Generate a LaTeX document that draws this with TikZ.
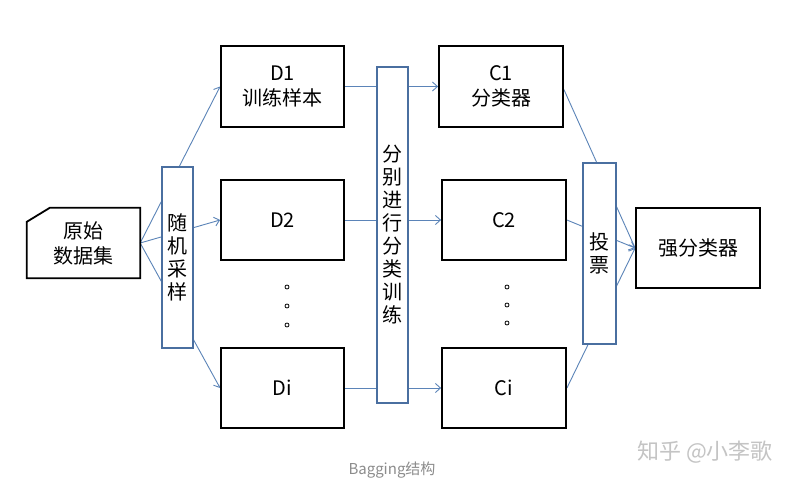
\documentclass[tikz,border=0pt]{standalone}
\usepackage{fontspec}
\setmainfont{Noto Sans CJK SC}
\usetikzlibrary{arrows.meta,backgrounds}
\definecolor{barblue}{HTML}{4A6FA0}
\definecolor{linkblue}{HTML}{5B84B8}
\definecolor{capgray}{HTML}{8C8C8C}
\definecolor{markgray}{HTML}{C4C4C4}
\tikzset{
  box/.style={draw=black, line width=1.8pt, fill=white, inner sep=0pt, align=center,
    font=\fontsize{20}{25}\selectfont},
  bar/.style={draw=barblue, line width=1.8pt, fill=white, inner sep=0pt, align=center,
    minimum width=31pt, font=\fontsize{20}{23}\selectfont},
  link/.style={draw=linkblue, line width=0.9pt, -{Straight Barb[length=5pt,width=9pt]}},
  dotmark/.style={draw=black, line width=0.8pt}
}
\begin{document}
\begin{tikzpicture}[x=1pt,y=-1pt]
\useasboundingbox (0,0) rectangle (798,484);
% nodes
\node[inner sep=0pt, minimum width=113pt, minimum height=70pt, align=center,
  font=\fontsize{20}{25}\selectfont] (raw) at (83.5,243) {原始\\数据集};
\node[bar, minimum height=181pt] (samp) at (177.5,257.5) {随\\机\\采\\样};
\node[box, minimum width=123pt, minimum height=81pt] (d1) at (282.5,86.5) {D1\\训练样本};
\node[box, minimum width=123pt, minimum height=80pt] (d2) at (282.5,220) {D2};
\node[box, minimum width=123pt, minimum height=80pt] (di) at (282.5,388) {Di};
\node[bar, minimum height=336pt] (train) at (392.5,235) {分\\别\\进\\行\\分\\类\\训\\练};
\node[box, minimum width=124pt, minimum height=81pt] (c1) at (501,86.5) {C1\\分类器};
\node[box, minimum width=124pt, minimum height=80pt] (c2) at (504,220) {C2};
\node[box, minimum width=124pt, minimum height=80pt] (ci) at (504,388) {Ci};
\node[bar, minimum width=33pt, minimum height=181pt] (vote) at (599.5,253.5) {投\\票};
\node[box, minimum width=124pt, minimum height=80pt] (strong) at (698,248) {强分类器};
% cut-corner outline of the raw data node
\draw[line width=1.8pt, line join=miter]
  (raw.south west) -- ([yshift=-14pt]raw.north west) -- ([xshift=23pt]raw.north west)
  -- (raw.north east) -- (raw.south east) -- cycle;
% dots
\foreach \y in {287,306,325} { \draw[dotmark] (287,\y) circle (2pt); }
\foreach \y in {287,305,323} { \draw[dotmark] (507,\y) circle (2pt); }
% texts
\node[text=capgray, font=\fontsize{15}{17}\selectfont] (cap) at (392,470) {Bagging结构};
\node[text=markgray, font=\fontsize{22}{24}\selectfont] (mark) at (705,452) {知乎 @小李歌};
% connectors behind the bars
\begin{scope}[on background layer]
  \fill[white] (0,0) rectangle (798,484);
  \draw[link] (raw.east) -- (d1.west);
  \draw[link] (raw.east) -- (d2.west);
  \draw[link] (raw.east) -- (di.west);
  \draw[link] (d1.east) -- (c1.west);
  \draw[link] (d2.east) -- (c2.west);
  \draw[link] (di.east) -- (ci.west);
  \draw[link] ([yshift=-3pt]c1.east) -- (strong.west);
  \draw[link] (c2.east) -- (strong.west);
  \draw[link] (ci.east) -- (strong.west);
\end{scope}
\end{tikzpicture}
\end{document}
